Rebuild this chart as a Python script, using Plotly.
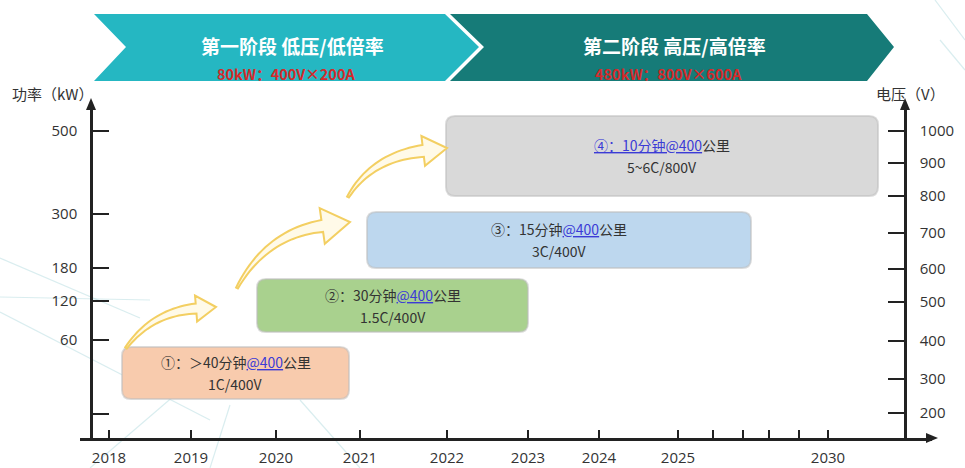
import numpy as np
import plotly.graph_objects as go

# ---- content -------------------------------------------------------------
year_labels = ["2018", "2019", "2020", "2021", "2022", "2023", "2024", "2025",
               "", "", "", "", "2030"]
power_labels = ["500", "300", "180", "120", "60", ""]          # kW
voltage_labels = ["1000", "900", "800", "700", "600", "500", "400", "300", "200"]  # V

stage_titles = ["第一阶段 低压/低倍率", "第二阶段 高压/高倍率"]
stage_specs = ["80kW：400V×200A", "480kW：800V×600A"]

step_marks = ["①：", "②：", "③：", "④："]
step_times = ["＞40分钟", "30分钟", "15分钟", "10分钟"]
step_range = "@400"
step_unit = "公里"
step_rates = ["1C/400V", "1.5C/400V", "3C/400V", "5~6C/800V"]

# ---- layout geometry (canvas pixels) ---------------------------------------
W, H = 965, 468
AX_X0, AX_X1, AX_Y = 80, 932, 438      # horizontal axis
AX_TOP = 104                            # top of both vertical axes
LEFT_X, RIGHT_X = 91, 905
year_px = [109, 191, 276, 360, 447, 528, 599, 678, 713, 743, 769, 799, 828]
power_px = [131, 214, 268, 301, 340, 414]
voltage_px = [131, 163, 196, 233, 269, 302, 341, 379, 413]

box_geom = [(122, 347, 349, 399), (257, 279, 528, 332),
            (367, 212, 751, 268), (446, 116, 878, 196)]
box_fill = ["#f8cbad", "#a9d18e", "#bdd7ee", "#d9d9d9"]

TEAL, DARK_TEAL, RED, LINK = "#25b7c2", "#167b78", "#d42a2a", "#3b3bd6"
INK, TXT = "#222222", "#333333"
FONT = "Noto Sans CJK SC"
NUM_FONT = "Open Sans"


def rrect(x0, y0, x1, y1, r):
    return (f"M{x0+r},{y0} L{x1-r},{y0} Q{x1},{y0} {x1},{y0+r} "
            f"L{x1},{y1-r} Q{x1},{y1} {x1-r},{y1} L{x0+r},{y1} "
            f"Q{x0},{y1} {x0},{y1-r} L{x0},{y0+r} Q{x0},{y0} {x0+r},{y0} Z")


def curved_arrow(p0, ctrl, tip, w0, w1, head_w, head_len, n=24):
    p0, ctrl, tip = map(np.asarray, (p0, ctrl, tip))
    d = tip - ctrl
    d = d / np.hypot(*d)
    base = tip - d * head_len
    t = np.linspace(0, 1, n)[:, None]
    pts = (1 - t) ** 2 * p0 + 2 * (1 - t) * t * ctrl + t ** 2 * base
    der = 2 * (1 - t) * (ctrl - p0) + 2 * t * (base - ctrl)
    nrm = np.column_stack([-der[:, 1], der[:, 0]])
    nrm /= np.hypot(nrm[:, 0], nrm[:, 1])[:, None]
    hw = np.linspace(w0, w1, n)[:, None]
    left, right = pts + nrm * hw, pts - nrm * hw
    nb = nrm[-1]
    outline = list(left) + [base + nb * head_w, tip, base - nb * head_w] + list(right[::-1])
    return "M" + " L".join(f"{x:.1f},{y:.1f}" for x, y in outline) + " Z"


shapes = []
annotations = []

# faint decorative background strokes
for (xa, ya, xb, yb) in [(0, 258, 140, 318), (0, 297, 150, 300), (0, 312, 210, 420),
                         (90, 468, 175, 395), (210, 468, 230, 405), (300, 400, 360, 468),
                         (935, 0, 965, 40), (940, 40, 965, 70)]:
    shapes.append(dict(type="line", xref="x", yref="y", x0=xa, y0=ya, x1=xb, y1=yb,
                       line=dict(color="rgba(170,215,220,0.45)", width=1.2), layer="below"))

# stage banners (chevrons)
shapes.append(dict(type="path", xref="x", yref="y", layer="below", line=dict(width=0),
                   fillcolor=TEAL,
                   path="M94,14 L445,14 L479,47 L445,81 L94,81 L126,47 Z"))
shapes.append(dict(type="path", xref="x", yref="y", layer="below", line=dict(width=0),
                   fillcolor=DARK_TEAL,
                   path="M450,14 L867,14 L894,47 L867,81 L450,81 L484,47 Z"))
for cx, title, spec in zip([292, 674], stage_titles, stage_specs):
    annotations.append(dict(x=cx, y=45, xref="x", yref="y", text=f"<b>{title}</b>",
                            showarrow=False, font=dict(family=FONT, size=19, color="white")))
    annotations.append(dict(x=cx - 6, y=73, xref="x", yref="y", text=f"<b>{spec}</b>",
                            showarrow=False, font=dict(family=FONT, size=14.5, color=RED)))

# milestone boxes
for i, ((x0, y0, x1, y1), fc) in enumerate(zip(box_geom, box_fill)):
    shapes.append(dict(type="path", xref="x", yref="y", layer="below",
                       path=rrect(x0, y0, x1, y1, 9), fillcolor=fc,
                       line=dict(color="rgba(190,190,190,0.55)", width=2)))
    cx, cy = (x0 + x1) / 2, (y0 + y1) / 2
    if i == 3:
        line1 = (f"<span style='color:{LINK}'><u>{step_marks[i]}{step_times[i]}{step_range}</u></span>"
                 f"{step_unit}")
    else:
        line1 = (f"{step_marks[i]}{step_times[i]}"
                 f"<span style='color:{LINK}'><u>{step_range}</u></span>{step_unit}")
    annotations.append(dict(x=cx, y=cy - 11, xref="x", yref="y", text=line1, showarrow=False,
                            font=dict(family=FONT, size=14, color=TXT)))
    annotations.append(dict(x=cx, y=cy + 11, xref="x", yref="y", text=step_rates[i],
                            showarrow=False, font=dict(family=FONT, size=14, color=TXT)))

# rising arrows between milestones
for p0, c, tip, w1, hw, hl in [((126, 348), (152, 312), (216, 307), 5, 13, 20),
                               ((237, 288), (266, 234), (350, 222), 6, 18, 28),
                               ((348, 197), (372, 157), (447, 148), 6, 15, 24)]:
    shapes.append(dict(type="path", xref="x", yref="y", layer="above",
                       path=curved_arrow(p0, c, tip, 1.0, w1, hw, hl),
                       fillcolor="rgba(255,249,228,0.85)",
                       line=dict(color="#f3cf62", width=2)))

# axis arrowheads
for path in [f"M{LEFT_X-5},{AX_TOP+6} L{LEFT_X},{AX_TOP-6} L{LEFT_X+5},{AX_TOP+6} Z",
             f"M{RIGHT_X-5},{AX_TOP+6} L{RIGHT_X},{AX_TOP-6} L{RIGHT_X+5},{AX_TOP+6} Z",
             f"M{AX_X1-6},{AX_Y-5} L{AX_X1+6},{AX_Y} L{AX_X1-6},{AX_Y+5} Z"]:
    shapes.append(dict(type="path", xref="x", yref="y", path=path, fillcolor=INK,
                       line=dict(width=0), layer="above"))

# axis titles
annotations.append(dict(x=10, y=93, xref="x", yref="y", xanchor="left", text="功率（kW）",
                        showarrow=False, font=dict(family=FONT, size=15, color=TXT)))
annotations.append(dict(x=874, y=93, xref="x", yref="y", xanchor="left", text="电压（V）",
                        showarrow=False, font=dict(family=FONT, size=15, color=TXT)))

fig = go.Figure()
fig.add_trace(go.Scatter(x=[None], y=[None], xaxis="x", yaxis="y", showlegend=False))
fig.add_trace(go.Scatter(x=[None], y=[None], xaxis="x2", yaxis="y2", showlegend=False))
fig.add_trace(go.Scatter(x=[None], y=[None], xaxis="x2", yaxis="y3", showlegend=False))

tickfont = dict(family=NUM_FONT, size=15, color=TXT)
y_dom = [(H - AX_Y) / H, (H - AX_TOP) / H]

fig.update_layout(
    width=W, height=H, margin=dict(l=0, r=0, t=0, b=0),
    paper_bgcolor="white", plot_bgcolor="rgba(0,0,0,0)",
    xaxis=dict(domain=[0, 1], range=[0, W], visible=False, fixedrange=True),
    yaxis=dict(domain=[0, 1], range=[H, 0], visible=False, fixedrange=True),
    xaxis2=dict(domain=[AX_X0 / W, AX_X1 / W], range=[AX_X0, AX_X1], anchor="y2",
                showline=True, linecolor=INK, linewidth=2.5, showgrid=False, zeroline=False,
                ticks="inside", ticklen=8, tickwidth=2, tickcolor=INK,
                tickmode="array", tickvals=year_px, ticktext=year_labels,
                tickfont=tickfont, ticklabelstandoff=4),
    yaxis2=dict(domain=y_dom, range=[AX_Y, AX_TOP], anchor="free", position=LEFT_X / W,
                showline=True, linecolor=INK, linewidth=2.5, showgrid=False, zeroline=False,
                ticks="inside", ticklen=16, tickwidth=2, tickcolor=INK,
                tickmode="array", tickvals=power_px, ticktext=power_labels,
                tickfont=tickfont, ticklabelstandoff=10),
    yaxis3=dict(domain=y_dom, range=[AX_Y, AX_TOP], anchor="free", position=RIGHT_X / W,
                overlaying="y2", side="right",
                showline=True, linecolor=INK, linewidth=2.5, showgrid=False, zeroline=False,
                ticks="inside", ticklen=16, tickwidth=2, tickcolor=INK,
                tickmode="array", tickvals=voltage_px, ticktext=voltage_labels,
                tickfont=tickfont, ticklabelstandoff=10),
    shapes=shapes, annotations=annotations, showlegend=False,
)

fig.write_html("out.html")
